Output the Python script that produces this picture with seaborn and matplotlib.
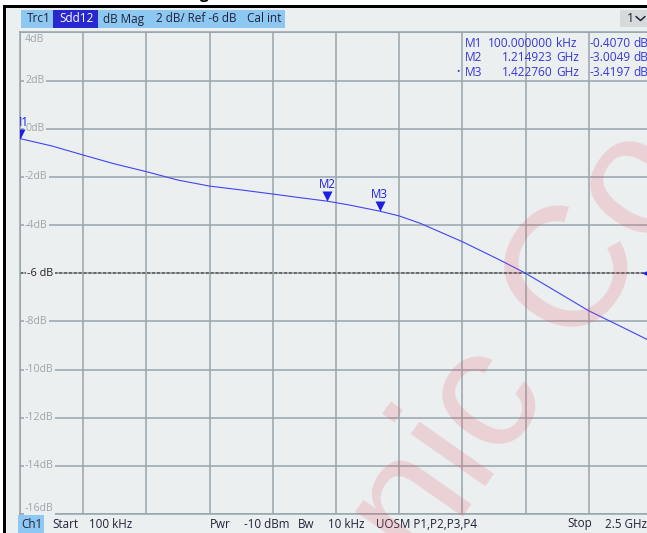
import numpy as np
import pandas as pd
import matplotlib
matplotlib.use("Agg")
import matplotlib.pyplot as plt
import seaborn as sns
from matplotlib.patches import Rectangle
from matplotlib.lines import Line2D
from matplotlib.path import Path
import matplotlib.transforms as mtransforms

# ---------------- data ----------------
freq_ghz = [0.0001, 0.125, 0.25, 0.375, 0.5, 0.625, 0.75, 0.875, 1.0, 1.1,
            1.214923, 1.3, 1.42276, 1.5, 1.582, 1.75, 1.9, 2.0, 2.25, 2.4, 2.5]
sdd12_db = [-0.407, -0.71, -1.09, -1.46, -1.78, -2.13, -2.38, -2.54, -2.71, -2.85,
            -3.005, -3.16, -3.42, -3.62, -3.92, -4.69, -5.46, -6.0, -7.56, -8.33, -8.85]

marker_names = ["M1", "M2", "M3"]
marker_freq_ghz = [0.0001, 1.214923, 1.422760]
marker_db = [-0.4070, -3.0049, -3.4197]
marker_freq_text = ["100.000000", "1.214923", "1.422760"]
marker_unit_text = ["kHz", "GHz", "GHz"]
marker_db_text = ["-0.4070", "-3.0049", "-3.4197"]

y_tick_values = [4, 2, 0, -2, -4, -6, -8, -10, -12, -14, -16]
ref_level_db = -6
start_ghz, stop_ghz = 0.0001, 2.5

header_items = ["Trc1", "Sdd12", "dB Mag", "2 dB/ Ref -6 dB", "Cal int"]
status_items = ["Ch1", "Start", "100 kHz", "Pwr", "-10 dBm", "Bw", "10 kHz",
                "UOSM P1,P2,P3,P4", "Stop", "2.5 GHz"]
watermark_text = "ctronic Co"

# ---------------- style ----------------
W, H = 647, 533
BG = "#ebeff0"
GRID = "#98a5ad"
TRACE = "#4343f2"
MBLUE = "#1e1ee0"
TABBLUE = "#8cc8f2"
DARKBLUE = "#2828d0"
TXT = "#22223a"
TICKTXT = "#9ea6ac"

sns.set_style("white")
plt.rcParams["font.family"] = ["Open Sans", "DejaVu Sans"]

fig = plt.figure(figsize=(W / 100, H / 100), dpi=100, facecolor=BG)


def fx(px):
    return px / W


def fy(py):
    return 1 - py / H


def frect(x0, y0, x1, y1, color, z=1):
    fig.add_artist(Rectangle((fx(x0), fy(y1)), fx(x1) - fx(x0), fy(y0) - fy(y1),
                             transform=fig.transFigure, facecolor=color,
                             edgecolor="none", zorder=z))


def ftext(px, py, s, **kw):
    kw.setdefault("fontsize", 8.5)
    kw.setdefault("color", TXT)
    kw.setdefault("va", "center")
    kw.setdefault("ha", "left")
    fig.text(fx(px), fy(py), s, **kw)


# outer frame
frect(0, 0, W, 5, "white")
frect(0, 0, 3, H, "white")
frect(3, 5, W, 7.5, "black", z=2)
frect(3, 5, 6, H, "black", z=2)
ftext(200, -1.5, "g", fontsize=11, color="black", va="baseline", fontweight="bold")

# header tabs
frect(21, 10, 285, 28, TABBLUE)
frect(53, 10, 98, 28, DARKBLUE)
hx = [27, 59, 103, 156, 247]
for x, s in zip(hx, header_items):
    ftext(x, 19, s, color="white" if s == "Sdd12" else TXT, fontsize=8.5)
frect(620, 10, W, 27, "#d6dadb")
ftext(627, 18.5, "1", fontsize=8.8)
fig.add_artist(Line2D([fx(636), fx(640.5), fx(645)], [fy(16.5), fy(20.5), fy(16.5)],
                      transform=fig.transFigure, color=TXT, lw=1.1))

# status bar
frect(18, 515, 44, H, TABBLUE)
sx = [21, 52, 89, 210, 244, 298, 328, 376, 567, 605]
for x, s in zip(sx, status_items):
    ftext(x, 524, s, fontsize=8.4)

# ---------------- axes ----------------
ax_left, ax_top, ax_bottom = 20, 32.5, 514
ax = fig.add_axes([fx(ax_left), fy(ax_bottom), (652 - ax_left) / W, (ax_bottom - ax_top) / H])
ax.set_facecolor(BG)
ax.set_xlim(start_ghz, stop_ghz)
ax.set_ylim(-16, 4)
ax.set_xticks(np.linspace(start_ghz, stop_ghz, 11))
ax.set_yticks(y_tick_values)
ax.tick_params(length=0, labelbottom=False, labelleft=False)
ax.grid(True, color=GRID, lw=1.1, zorder=0)
ax.set_axisbelow(True)
for sp in ax.spines.values():
    sp.set_color(GRID)
    sp.set_linewidth(1.1)

# reference line
ax.axhline(ref_level_db, color="#555555", lw=1.1, ls=(0, (2.0, 1.2)), zorder=1.5)

df = pd.DataFrame({"f": freq_ghz, "db": sdd12_db})
sns.lineplot(data=df, x="f", y="db", ax=ax, color=TRACE, lw=0.8, zorder=3)

# y labels inside
ytr = ax.get_yaxis_transform()
for v in y_tick_values:
    dy = 0
    if v == 4:
        dy = -7.5
    elif v == -16:
        dy = 5.5
    is_ref = v == ref_level_db
    lab = f"{v} dB" if is_ref else f"{v}dB"
    tr = mtransforms.offset_copy(ytr, fig=fig, x=5 if not is_ref else 7, y=dy, units="dots")
    ax.text(0, v, lab, transform=tr, ha="left", va="center",
            fontsize=7.6 if not is_ref else 7.8,
            color="#202020" if is_ref else TICKTXT, zorder=4,
            bbox=dict(boxstyle="square,pad=0.12", fc=BG, ec="none"))

# markers (tip on trace)
tri_down = Path([(-0.5, 1.0), (0.5, 1.0), (0.0, 0.0), (-0.5, 1.0)])
for name, f, d in zip(marker_names, marker_freq_ghz, marker_db):
    ln, = ax.plot([f], [d], marker=tri_down, ms=14.4, color=MBLUE, mec=MBLUE, mew=0, zorder=5)
    ln.set_clip_on(True)
    a = ax.annotate(name, (f, d), xytext=(0, 16.5), textcoords="offset pixels",
                    ha="center", va="center", fontsize=8.3, color=MBLUE, zorder=5)
    a.set_clip_box(ax.bbox)
    a.set_clip_on(True)

# reference level marker on right edge
tri_left = Path([(0.0, 0.0), (1.0, 0.5), (1.0, -0.5), (0.0, 0.0)])
rtr = ax.transData + mtransforms.ScaledTranslation(-10 / 100, 0, fig.dpi_scale_trans)
ax.plot([stop_ghz], [ref_level_db], marker=tri_left, ms=14.4, color=MBLUE, mew=0,
        transform=rtr, zorder=5, clip_on=False)

# marker table
rows_y = [43, 57.5, 72]
for yy, n, ft, ut, dt in zip(rows_y, marker_names, marker_freq_text, marker_unit_text, marker_db_text):
    ftext(465, yy, n, color="#3636d6", fontsize=8.6)
    ftext(552.5, yy, ft, color="#3636d6", fontsize=8.6, ha="right")
    ftext(556, yy, ut, color="#3636d6", fontsize=8.6)
    ftext(630.5, yy, dt, color="#3636d6", fontsize=8.6, ha="right")
    ftext(633, yy, "dB", color="#3636d6", fontsize=8.6)
ftext(458, 72, "•", color="#3636d6", fontsize=6.5, ha="center")

# watermark (anchor = baseline start of "ronic Co", shifted back for the "ct")
em = 172
bx, by = np.cos(np.radians(55)), -np.sin(np.radians(55))
pre = (0.5 + 0.278) * em
ax0, ay0 = 336 - pre * bx, 698 - pre * by
fig.text(fx(ax0), fy(ay0), watermark_text, rotation=55, rotation_mode="anchor",
         ha="left", va="baseline", fontsize=em * 0.72, family="Liberation Sans",
         color="#e8485a", alpha=0.18, zorder=10)

fig.savefig("out.png", dpi=100, facecolor=BG)
